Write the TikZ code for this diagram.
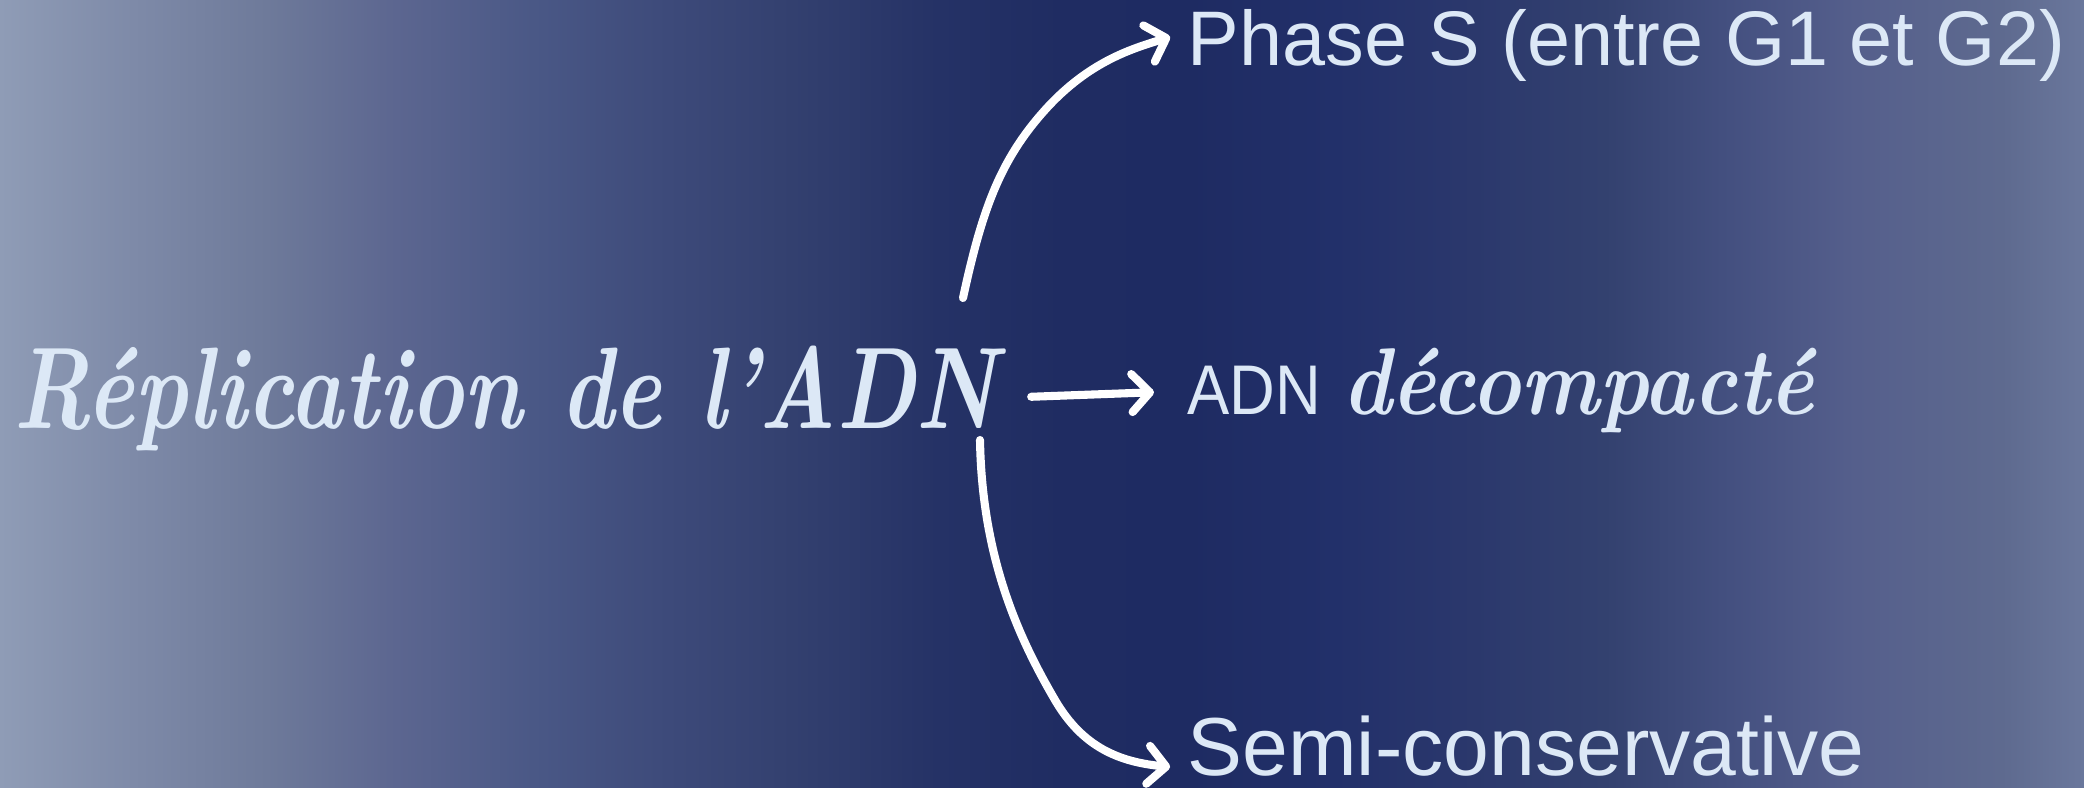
\documentclass[tikz,border=0pt]{standalone}
\usepackage{fontspec}
\usepackage{graphicx}
\newfontfamily\labelfont{Liberation Sans}
\usetikzlibrary{arrows.meta}

\definecolor{bgA}{HTML}{8F9CB6}
\definecolor{bgB}{HTML}{7E8AA8}
\definecolor{bgC}{HTML}{6E7A9A}
\definecolor{bgD}{HTML}{5C6690}
\definecolor{bgE}{HTML}{4A5886}
\definecolor{bgF}{HTML}{3D4A7A}
\definecolor{bgG}{HTML}{33406F}
\definecolor{bgH}{HTML}{253266}
\definecolor{bgI}{HTML}{1F2C62}
\definecolor{bgJ}{HTML}{1E2B62}
\definecolor{bgK}{HTML}{22306A}
\definecolor{bgL}{HTML}{2A376C}
\definecolor{bgM}{HTML}{33416F}
\definecolor{bgN}{HTML}{445080}
\definecolor{bgO}{HTML}{555F8C}
\definecolor{bgP}{HTML}{5E6A8F}
\definecolor{bgQ}{HTML}{6A779C}
\definecolor{txt}{HTML}{DCE8F6}
\pgfdeclarehorizontalshading{bgshade}{100bp}{color(0bp)=(bgA); color(25bp)=(bgA); color(28.2bp)=(bgB); color(31.4bp)=(bgC); color(34.5bp)=(bgD); color(37.8bp)=(bgE); color(41bp)=(bgF); color(44bp)=(bgG); color(47.5bp)=(bgH); color(50.5bp)=(bgI); color(53.5bp)=(bgJ); color(57bp)=(bgK); color(60bp)=(bgL); color(63.5bp)=(bgM); color(66.5bp)=(bgN); color(69.5bp)=(bgO); color(73bp)=(bgP); color(75bp)=(bgQ); color(100bp)=(bgQ)}

\begin{document}
\begin{tikzpicture}[x=0.01cm, y=-0.01cm,
  arr/.style={white, line width=2.3pt, line cap=round,
    -{Straight Barb[length=1.8mm, width=3.8mm, round]}},
  lbl/.style={anchor=base west, inner sep=0pt, text=txt}]
  \shade[shading=bgshade] (0,0) rectangle (2084,788);
  \useasboundingbox (0,0) rectangle (2084,788);

  \node[lbl] (repl) at (13,428) {\scalebox{0.78}[1]{\fontsize{33}{40}\selectfont\bfseries\itshape Réplication de l’ADN}};
  \node[lbl] (phase) at (1187,66) {\labelfont\fontsize{22}{26}\selectfont Phase S (entre G1 et G2)};
  \node[lbl] (adn) at (1187,415) {\fontsize{20}{26}\selectfont\scalebox{0.9}[1]{\labelfont ADN} {\fontsize{27}{30}\selectfont\bfseries\itshape\scalebox{0.88}[1]{décompacté}}};
  \node[lbl] (semi) at (1187,775) {\labelfont\fontsize{23.4}{28}\selectfont Semi-conservative};

  \coordinate (up) at (963,298);
  \coordinate (down) at (980,440);
  \draw[arr] (up) .. controls (982,210) and (1000,160) .. (1045,110) .. controls (1090,60) and (1135,48) .. ([xshift=-4.8pt, yshift=2.6pt]phase.west);
  \draw[arr, shorten <=9.5pt, shorten >=9.4pt] (repl.east) -- (adn.west);
  \draw[arr] (down) .. controls (982,560) and (1020,640) .. (1055,700) .. controls (1083,748) and (1120,762) .. ([xshift=-4.8pt]semi.west |- 0,767);
\end{tikzpicture}
\end{document}
